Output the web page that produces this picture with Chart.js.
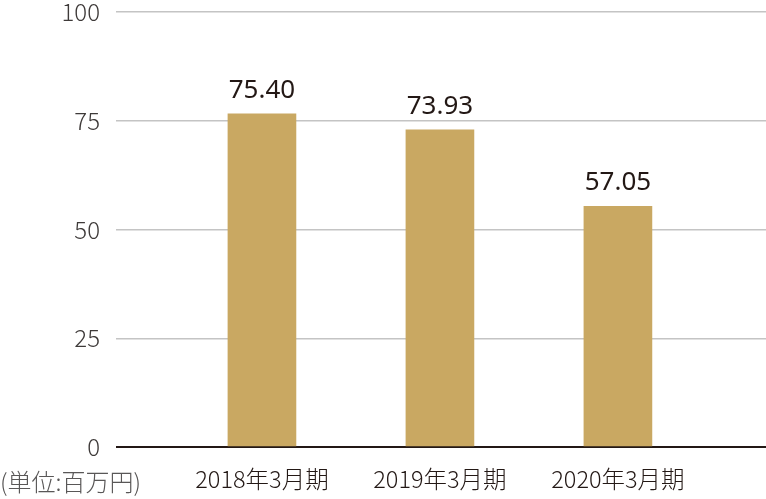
<!DOCTYPE html>
<html>
<head>
<meta charset="utf-8">
<script src="https://cdn.jsdelivr.net/npm/chart.js@4/dist/chart.umd.min.js"></script>
<style>
  html, body { margin: 0; padding: 0; background: #fff; }
  #wrap { position: relative; width: 766px; height: 499px; }
</style>
</head>
<body>
<div id="wrap"><canvas id="chart"></canvas></div>
<script>
// ---- data ----
const periods   = ['2018年3月期', '2019年3月期', '2020年3月期'];
const barValues = [76.6, 72.9, 55.3];          // bar heights as drawn
const valueText = ['75.40', '73.93', '57.05']; // printed labels
const yTicks    = [0, 25, 50, 75, 100];
const unitText  = '(単位:百万円)';

const _gold  = '#c9a862';
const _dark  = '#231815';
const _grid  = '#c4c4c4';
const _tick  = '#3e3a39';
const _jp    = "'Noto Sans CJK JP', sans-serif";

// value labels above bars + unit note
const labelsPlugin = {
  id: 'labels',
  afterDatasetsDraw(chart) {
    const ctx = chart.ctx;
    const meta = chart.getDatasetMeta(0);
    ctx.save();
    ctx.fillStyle = _dark;
    ctx.font = "26px 'Noto Sans', sans-serif";
    ctx.textAlign = 'center';
    ctx.textBaseline = 'alphabetic';
    meta.data.forEach((bar, i) => {
      ctx.fillText(valueText[i], bar.x, bar.y - 16);
    });
    ctx.fillStyle = '#595757';
    ctx.font = "300 24px " + _jp;
    ctx.textAlign = 'left';
    ctx.textBaseline = 'middle';
    ctx.fillText(unitText, 0, 482);
    ctx.restore();
  }
};

new Chart(document.getElementById('chart'), {
  type: 'bar',
  data: {
    datasets: [{
      data: barValues.map((v, i) => ({ x: i + 1, y: v })),
      backgroundColor: _gold,
      barThickness: 68
    }]
  },
  options: {
    responsive: true,
    maintainAspectRatio: false,
    animation: false,
    layout: { padding: { top: 12, right: 0, left: 0, bottom: 0 } },
    plugins: { legend: { display: false }, tooltip: { enabled: false } },
    scales: {
      x: {
        type: 'linear',
        offset: false,
        min: 0.18,
        max: 3.832,
        grid: { display: false },
        border: { display: false },
        afterBuildTicks: axis => { axis.ticks = periods.map((_, i) => ({ value: i + 1 })); },
        afterFit: axis => { axis.height = 52; axis.paddingLeft = 0; axis.paddingRight = 0; },
        ticks: {
          color: _dark,
          padding: 10,
          maxRotation: 0,
          autoSkip: false,
          font: { family: _jp, size: 23.5, weight: 300 },
          callback: v => periods[v - 1]
        }
      },
      y: {
        min: 0,
        max: 100,
        afterBuildTicks: axis => { axis.ticks = yTicks.map(v => ({ value: v })); },
        afterFit: axis => { axis.width = 116; axis.paddingTop = 0; axis.paddingBottom = 0; },
        border: { display: false },
        grid: {
          drawTicks: false,
          color: c => c.tick.value === 0 ? _dark : _grid,
          lineWidth: c => c.tick.value === 0 ? 2 : 1.5
        },
        ticks: {
          color: _tick,
          padding: 16,
          font: { family: _jp, size: 24, weight: 300 }
        }
      }
    }
  },
  plugins: [labelsPlugin]
});
</script>
</body>
</html>
